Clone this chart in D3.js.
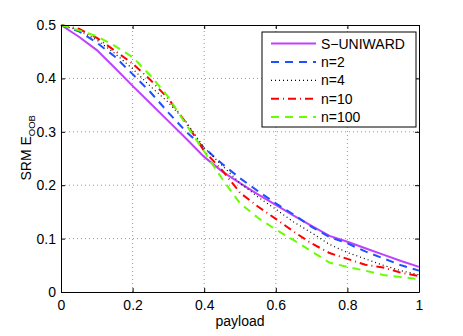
<!DOCTYPE html>
<html>
<head>
<meta charset="utf-8">
<script src="https://cdn.jsdelivr.net/npm/d3@7"></script>
<style>
  body { margin: 0; background: #fff; }
  svg text { font-family: "Liberation Sans", Arial, sans-serif; }
</style>
</head>
<body>
<svg id="vis-canvas" width="463" height="336"></svg>
<script>
// payload grid shared by all series
const payload = [0, 0.05, 0.1, 0.15, 0.2, 0.25, 0.3, 0.35, 0.4, 0.45, 0.5,
                 0.55, 0.6, 0.65, 0.7, 0.75, 0.8, 0.85, 0.9, 0.95, 1.0];

const sUniward = [0.5, 0.478, 0.453, 0.420, 0.386, 0.353, 0.320, 0.287, 0.253, 0.226, 0.204,
                  0.183, 0.163, 0.143, 0.124, 0.105, 0.094, 0.082, 0.070, 0.058, 0.047];
const n2   = [0.5, 0.488, 0.467, 0.441, 0.408, 0.374, 0.336, 0.300, 0.270, 0.240, 0.213,
              0.189, 0.166, 0.145, 0.122, 0.103, 0.091, 0.076, 0.063, 0.050, 0.040];
const n4   = [0.5, 0.490, 0.472, 0.447, 0.418, 0.385, 0.355, 0.318, 0.270, 0.237, 0.204,
              0.178, 0.155, 0.131, 0.111, 0.089, 0.074, 0.062, 0.050, 0.040, 0.032];
const n10  = [0.5, 0.493, 0.476, 0.452, 0.428, 0.397, 0.362, 0.316, 0.264, 0.228, 0.186,
              0.160, 0.137, 0.113, 0.091, 0.073, 0.062, 0.051, 0.046, 0.036, 0.030];
const n100 = [0.5, 0.490, 0.479, 0.461, 0.440, 0.405, 0.365, 0.313, 0.263, 0.212, 0.166,
              0.139, 0.117, 0.097, 0.076, 0.055, 0.047, 0.040, 0.032, 0.028, 0.024];

const seriesNames = ["S\u2212UNIWARD", "n=2", "n=4", "n=10", "n=100"];
const xTicks = [0, 0.2, 0.4, 0.6, 0.8, 1];
const yTicks = [0, 0.1, 0.2, 0.3, 0.4, 0.5];

const series = [
  {name: seriesNames[0], vals: sUniward, color: "#bf40ff", width: 2,   dash: null},
  {name: seriesNames[1], vals: n2,       color: "#2050ff", width: 2,   dash: "8,6"},
  {name: seriesNames[2], vals: n4,       color: "#000000", width: 1.2, dash: "1,3"},
  {name: seriesNames[3], vals: n10,      color: "#ff0000", width: 2,   dash: "8,4,1,4"},
  {name: seriesNames[4], vals: n100,     color: "#66ff00", width: 2,   dash: "8,6"}
];

const svg = d3.select("svg");
const margin = {top: 25, right: 44, bottom: 44, left: 61};
const W = 463, H = 336;
const fs = 14;

let scaleX = d3.scaleLinear().domain([0, 1]).range([margin.left, W - margin.right]);
let scaleY = d3.scaleLinear().domain([0, 0.5]).range([H - margin.bottom, margin.top]);

// grid
svg.append("g").selectAll("line.gx")
   .data(xTicks.slice(1, -1)).enter().append("line")
   .attr("x1", d => scaleX(d)).attr("x2", d => scaleX(d))
   .attr("y1", scaleY(0)).attr("y2", scaleY(0.5))
   .attr("stroke", "#999").attr("stroke-width", 1).attr("stroke-dasharray", "1,3");
svg.append("g").selectAll("line.gy")
   .data(yTicks.slice(1, -1)).enter().append("line")
   .attr("y1", d => scaleY(d)).attr("y2", d => scaleY(d))
   .attr("x1", scaleX(0)).attr("x2", scaleX(1))
   .attr("stroke", "#999").attr("stroke-width", 1).attr("stroke-dasharray", "1,3");

// lines
let line = d3.line().x((d, i) => scaleX(payload[i])).y(d => scaleY(d));
svg.append("g").selectAll("path")
   .data(series).enter().append("path")
   .attr("d", d => line(d.vals))
   .attr("fill", "none")
   .attr("stroke", d => d.color)
   .attr("stroke-width", d => d.width)
   .attr("stroke-dasharray", d => d.dash);

// axes with inward ticks, box on all sides
svg.append("g")
   .attr("transform", "translate(0," + scaleY(0) + ")")
   .call(d3.axisBottom(scaleX).tickValues(xTicks).tickSizeInner(-4).tickSizeOuter(0)
           .tickPadding(8).tickFormat(d3.format("")));
svg.append("g")
   .attr("transform", "translate(" + scaleX(0) + ",0)")
   .call(d3.axisLeft(scaleY).tickValues(yTicks).tickSizeInner(-4).tickSizeOuter(0)
           .tickPadding(5).tickFormat(d3.format("")));
svg.append("g")
   .attr("transform", "translate(0," + scaleY(0.5) + ")")
   .call(d3.axisTop(scaleX).tickValues(xTicks).tickSizeInner(-4).tickSizeOuter(0).tickFormat(""));
svg.append("g")
   .attr("transform", "translate(" + scaleX(1) + ",0)")
   .call(d3.axisRight(scaleY).tickValues(yTicks).tickSizeInner(-4).tickSizeOuter(0).tickFormat(""));

svg.selectAll(".tick text").attr("font-size", fs).attr("fill", "#000")
   .attr("font-family", "'Liberation Sans', Arial, sans-serif");
svg.selectAll(".domain").attr("stroke", "#000");
svg.selectAll(".tick line").attr("stroke", "#000");

// axis labels
svg.append("text")
   .attr("x", scaleX(0.5)).attr("y", 326)
   .attr("text-anchor", "middle").attr("font-size", fs)
   .text("payload");
let yl = svg.append("text")
   .attr("transform", "translate(31," + scaleY(0.27) + ") rotate(-90)")
   .attr("text-anchor", "middle").attr("font-size", fs);
yl.append("tspan").text("SRM E");
yl.append("tspan").attr("font-size", 9.5).attr("dy", 3.5).text("OOB");

// legend
let legX = 262, legY = 32;
let leg = svg.append("g");
leg.append("rect")
   .attr("x", legX).attr("y", legY).attr("width", 154).attr("height", 95)
   .attr("fill", "#fff").attr("stroke", "#000").attr("stroke-width", 1);
let rows = leg.selectAll("g.row").data(series).enter().append("g")
   .attr("transform", (d, i) => "translate(0," + (legY + 11.5 + i * 18.4) + ")");
rows.append("line")
   .attr("x1", legX + 9).attr("x2", legX + 54)
   .attr("y1", 0).attr("y2", 0)
   .attr("stroke", d => d.color)
   .attr("stroke-width", d => d.width)
   .attr("stroke-dasharray", d => d.dash);
rows.append("text")
   .attr("x", legX + 59).attr("y", 5)
   .attr("font-size", fs)
   .text(d => d.name);
</script>
</body>
</html>
